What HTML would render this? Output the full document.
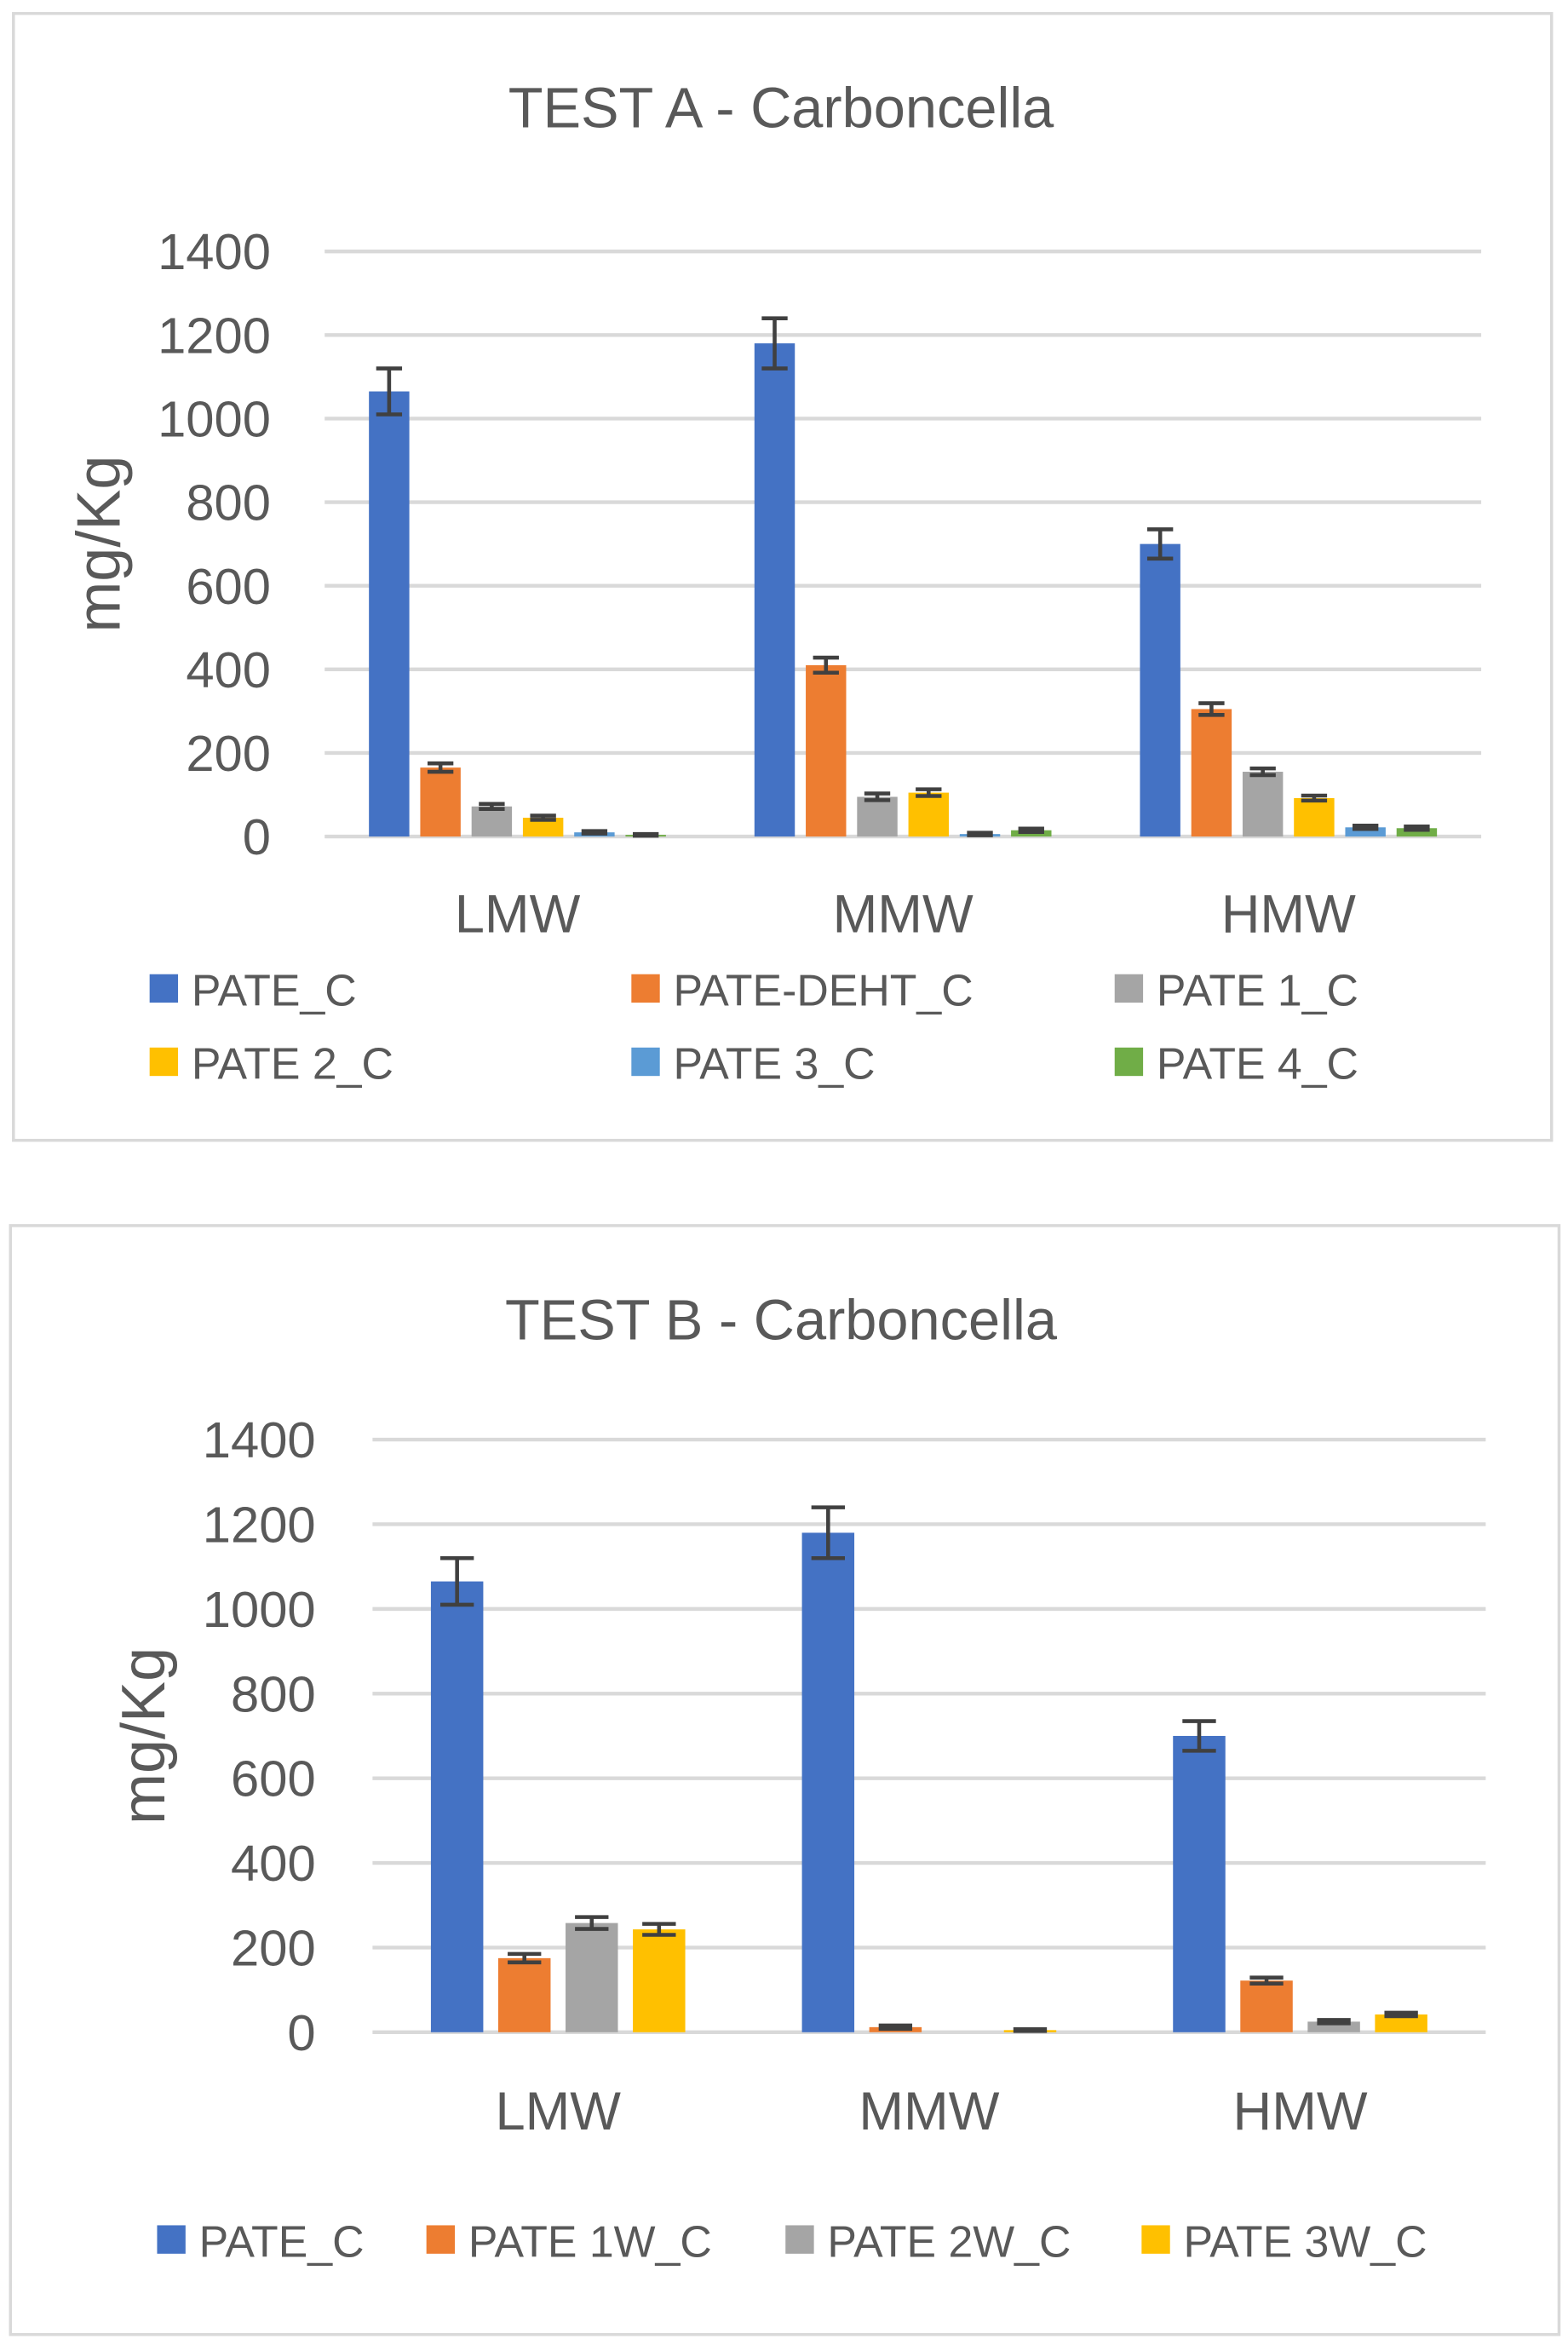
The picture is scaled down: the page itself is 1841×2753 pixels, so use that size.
<!DOCTYPE html>
<html><head><meta charset="utf-8"><style>
html,body{margin:0;padding:0;background:#fff;}
svg{display:block;}
text{font-family:"Liberation Sans",sans-serif;fill:#595959;}
</style></head><body>
<svg id="root" width="1841" height="2753" viewBox="0 0 1048 1567" preserveAspectRatio="none">
<rect x="9" y="9" width="1028" height="753" fill="#fff" stroke="#d9d9d9" stroke-width="2"/>
<rect x="7" y="819" width="1035" height="741" fill="#fff" stroke="#d9d9d9" stroke-width="2"/>
<text x="522" y="85" font-size="38" text-anchor="middle">TEST A - Carboncella</text>
<text x="522" y="895" font-size="38" text-anchor="middle">TEST B - Carboncella</text>
<g id="ga"></g><g id="gb"></g>
</svg>
<script>
const NS="http://www.w3.org/2000/svg";
const categories=["LMW","MMW","HMW"];
const ticks=[0,200,400,600,800,1000,1200,1400];
const colors=["#4472c4","#ed7d31","#a5a5a5","#ffc000","#5b9bd5","#70ad47"];
const seriesA=["PATE_C","PATE-DEHT_C","PATE 1_C","PATE 2_C","PATE 3_C","PATE 4_C"];
const valA0=[1065,1180,700], errA0=[55,60,35];
const valA1=[165,410,305], errA1=[10,18,14];
const valA2=[72,95,155], errA2=[6,8,8];
const valA3=[45,105,92], errA3=[5,8,6];
const valA4=[10,6,22], errA4=[3,3,4];
const valA5=[4,15,20], errA5=[2,4,4];
const seriesB=["PATE_C","PATE 1W_C","PATE 2W_C","PATE 3W_C"];
const valB0=[1065,1180,700], errB0=[55,60,35];
const valB1=[175,12,122], errB1=[10,4,7];
const valB2=[258,0,25], errB2=[14,0,4];
const valB3=[243,5,42], errB3=[13,2,4];

function el(p,tag,a){const e=document.createElementNS(NS,tag);for(const k in a)e.setAttribute(k,a[k]);p.appendChild(e);return e;}

function chart(g,cfg){
  const y=v=>cfg.y0-(v/1400)*(cfg.y0-cfg.y1);
  const cw=(cfg.x1-cfg.x0)/categories.length;
  ticks.forEach(t=>{
    const l=el(g,"line",{x1:cfg.x0,x2:cfg.x1,y1:y(t),y2:y(t),stroke:"#d9d9d9","stroke-width":2.5});
    
    
    const tx=el(g,"text",{x:cfg.tickX,y:y(t)+12,"font-size":34,"text-anchor":"end"});tx.textContent=t;
    
    
  });
  const yt=el(g,"text",{x:0,y:0,"font-size":41,"text-anchor":"middle",transform:`translate(${cfg.titleX},${(cfg.y0+cfg.y1)/2}) rotate(-90)`});
  yt.textContent="mg/Kg";
  
  
  const n=cfg.vals.length;
  categories.forEach((c,i)=>{
    const cx=cfg.x0+cw*(i+0.5);
    const lb=el(g,"text",{x:cx,y:cfg.catY,"font-size":36,"text-anchor":"middle"});lb.textContent=c;
    
    
    const start=cx-(n*cfg.step-(cfg.step-cfg.bw))/2;
    cfg.vals.forEach((vals,s)=>{
      const v=vals[i],bx=start+s*cfg.step;
      const r=el(g,"rect",{x:bx,y:y(v),width:cfg.bw,height:y(0)-y(v),fill:colors[s]});
      
      
      const e=cfg.errs[s][i];
      if(v>0){
        const mx=bx+cfg.bw/2,cap=cfg.bw*0.32;
        const p=el(g,"path",{d:`M${mx},${y(v+e)}V${y(v-e)}M${mx-cap},${y(v+e)}H${mx+cap}M${mx-cap},${y(v-e)}H${mx+cap}`,stroke:"#404040","stroke-width":2.6,fill:"none"});
        
        
      }
    });
  });
  cfg.names.forEach((nm,s)=>{
    const [lx,ly]=cfg.leg[s];
    const sq=el(g,"rect",{x:lx,y:ly-10,width:19,height:19,fill:colors[s]});
    
    
    const t=el(g,"text",{x:lx+28,y:ly+11,"font-size":29.5});t.textContent=nm;
    
    
  });
}
chart(document.getElementById("ga"),{x0:217,x1:990,y0:559,y1:168,tickX:181,titleX:80,catY:623,bw:27,step:34.3,
  vals:[valA0,valA1,valA2,valA3,valA4,valA5],errs:[errA0,errA1,errA2,errA3,errA4,errA5],names:seriesA,
  leg:[[100,661],[422,661],[745,661],[100,710],[422,710],[745,710]]});
chart(document.getElementById("gb"),{x0:249,x1:993,y0:1358,y1:962,tickX:211,titleX:110,catY:1423,bw:35,step:45,
  vals:[valB0,valB1,valB2,valB3],errs:[errB0,errB1,errB2,errB3],names:seriesB,
  leg:[[105,1497],[285,1497],[525,1497],[763,1497]]});
</script>
</body></html>
